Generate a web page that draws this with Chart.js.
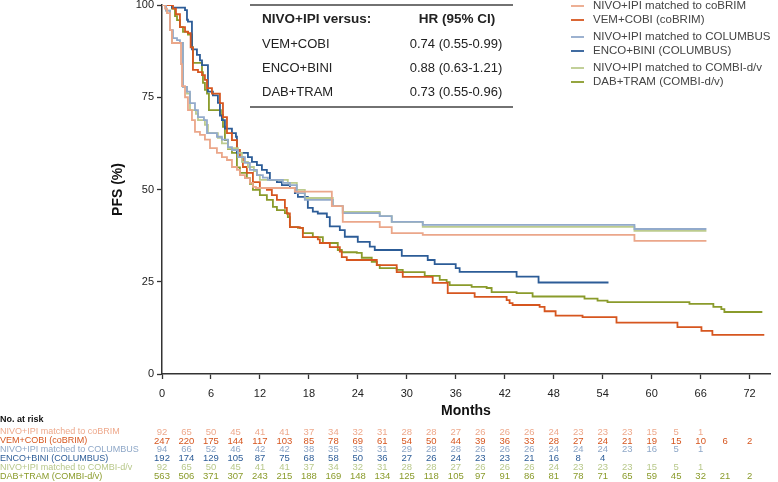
<!DOCTYPE html>
<html>
<head>
<meta charset="utf-8">
<script src="https://cdn.jsdelivr.net/npm/chart.js@4.4.1/dist/chart.umd.min.js"></script>
<style>
  html, body { margin: 0; padding: 0; background: #fff; }
  #wrap { width: 778px; height: 482px; }
</style>
</head>
<body>
<div id="wrap"><canvas id="pfsChart" width="778" height="482"></canvas></div>
<script>
// Kaplan-Meier PFS curves (months, %)
const nivoCobrimTime = [0, 0.37, 0.61, 0.98, 1.22, 2.33, 2.45, 2.82, 3.18, 3.67, 4.04, 4.65, 5.26, 5.88, 6.73, 7.34, 7.96, 8.57, 9.18, 9.55, 10.16, 10.77, 11.14, 11.51, 16.28, 20.81, 22.15, 26.68, 28.15, 31.95, 57.89, 66.71];
const nivoCobrimPfs  = [100, 99, 97.8, 93.2, 89.7, 84, 78, 75, 71.5, 68.8, 65.6, 64.8, 63.5, 61.2, 59.9, 58.8, 58, 56.1, 55.3, 53.9, 53.1, 51.8, 50.7, 50.4, 49.4, 45.5, 41.2, 39.8, 38.2, 37.7, 36.1, 36.1];

const vemCobiTime = [0, 1.35, 1.71, 2.2, 2.82, 3.18, 3.51, 3.79, 4.41, 4.9, 5.26, 5.51, 6.12, 7.1, 7.47, 7.96, 8.57, 9.18, 9.55, 9.91, 10.4, 11.14, 11.99, 12.85, 13.46, 14.08, 15.06, 15.3, 15.67, 16.89, 17.26, 19.09, 19.34, 20.56, 21.79, 22.03, 22.64, 26.32, 28.76, 29.5, 33.17, 35.01, 38.31, 42.23, 42.59, 42.96, 46.27, 46.88, 48.23, 51.53, 55.69, 63.16, 66.1, 67.44, 73.8];
const vemCobiPfs  = [100, 99, 97.5, 94, 92.8, 92.4, 88.5, 82.4, 81.8, 81, 79.7, 77.5, 76, 73.4, 69.6, 65.3, 63.4, 60.7, 58.8, 56.1, 54.5, 52, 50.4, 49.9, 48.5, 47.2, 45, 43.5, 39.8, 39.6, 37.1, 36.5, 35.5, 34.4, 33.2, 31.7, 30.9, 29.5, 27.6, 26.3, 24.7, 21.9, 20.9, 20, 19.2, 18.7, 18.2, 17, 15.8, 15.4, 13.9, 12.7, 11.7, 10.6, 10.6];

const nivoColumbusTime = [0, 0.49, 0.98, 1.35, 1.84, 2.2, 2.57, 3.06, 3.43, 4.04, 4.41, 5.14, 5.51, 6.73, 7.34, 8.08, 8.57, 9.3, 10.16, 10.77, 11.63, 12.36, 12.97, 14.81, 15.67, 16.52, 17.5, 20.93, 22.15, 26.68, 28.15, 31.95, 57.89, 66.71];
const nivoColumbusPfs  = [100, 98.5, 93.2, 91, 90.5, 89.7, 77.8, 76.5, 73.4, 71.5, 69.6, 68.8, 65.3, 64.3, 63.5, 61.5, 60.7, 58.8, 57.2, 55.3, 53.9, 53.2, 52.6, 51.8, 51.2, 49, 47.2, 45.5, 43.6, 42.8, 41.2, 40.4, 39.3, 39.3];

const encoBiniTime = [0, 1.22, 2.82, 3.06, 3.18, 3.67, 4.28, 4.65, 4.9, 5.63, 6.24, 6.85, 7.1, 7.34, 7.71, 8.57, 9.06, 9.18, 10.53, 11.02, 11.63, 12.24, 12.85, 13.22, 14.08, 14.69, 15.67, 16.28, 16.65, 17.87, 18.48, 19.09, 20.2, 20.56, 21.79, 22.4, 23.99, 25.46, 26.07, 29.38, 32.56, 33.41, 35.99, 36.47, 43.45, 46.14, 54.71];
const encoBiniPfs  = [100, 99.3, 98.6, 96, 95.5, 88, 86.5, 85, 83.7, 76.5, 75.5, 73.5, 70, 68.8, 66.5, 65.3, 64.3, 59.9, 58.8, 57.5, 56.6, 55.3, 54.5, 52.6, 52, 51.2, 50.4, 49, 48, 45, 44, 43.5, 42.5, 40, 39, 37.2, 35.8, 34.5, 33.6, 32, 30.9, 29.8, 28.7, 27.7, 26.4, 24.8, 24.8];

const nivoCombiTime = [0, 0.49, 0.98, 1.22, 2.57, 3.06, 3.43, 4.16, 4.41, 5.26, 5.63, 6.85, 7.34, 8.08, 9.3, 9.79, 10.53, 11.26, 11.63, 11.99, 15.42, 16.52, 17.5, 20.93, 22.15, 26.68, 28.15, 31.95, 57.89, 66.71];
const nivoCombiPfs  = [100, 98.5, 93.2, 89.7, 77.8, 76, 71.5, 70.5, 68.8, 67.5, 65.3, 64, 62.5, 61.2, 59.9, 57.5, 56.1, 55, 53.9, 52.6, 51.8, 49.9, 47.7, 45.5, 43.9, 42.8, 41.2, 39.9, 38.8, 38.8];

const dabTramTime = [0, 1.22, 1.59, 1.84, 2.2, 2.57, 3.18, 3.67, 3.79, 4.9, 5.02, 5.26, 5.51, 5.75, 7.22, 7.47, 7.71, 8.08, 8.57, 9.18, 9.55, 10.4, 10.77, 11.14, 11.99, 12.85, 13.59, 14.08, 15.06, 15.42, 15.67, 16.65, 17.26, 18.48, 19.71, 21.54, 22.03, 23.87, 24.48, 25.7, 26.32, 26.68, 28.76, 29.5, 32.19, 34.03, 34.88, 35.25, 37.94, 39.78, 40.39, 43.45, 45.41, 51.77, 53.37, 54.59, 64.63, 67.56, 68.54, 68.91, 73.56];
const dabTramPfs  = [100, 99, 97, 95.9, 94, 92.7, 92, 88.6, 84.3, 81.8, 78.9, 77, 76, 71.5, 70.2, 67, 63.4, 61, 59.9, 56, 54.5, 53.1, 51.5, 49.9, 48.5, 47.2, 45.3, 44.4, 43.6, 42.5, 39.8, 39.6, 38.2, 37.1, 35.5, 33.6, 33, 32.8, 31.5, 30.4, 29.5, 28.7, 28.2, 27.6, 26.6, 25.5, 24.9, 24.1, 23.6, 23.3, 22.2, 21.9, 21, 20.4, 19.9, 19.5, 19, 18.2, 17.6, 16.8, 16.8];

// axis ticks
const monthTicks = [0, 6, 12, 18, 24, 30, 36, 42, 48, 54, 60, 66, 72];
const pfsTicks = [0, 25, 50, 75, 100];

// number at risk, every 3 months
const riskMonths = [0, 3, 6, 9, 12, 15, 18, 21, 24, 27, 30, 33, 36, 39, 42, 45, 48, 51, 54, 57, 60, 63, 66, 69, 72];
const riskNivoCobrim   = [92, 65, 50, 45, 41, 41, 37, 34, 32, 31, 28, 28, 27, 26, 26, 26, 24, 23, 23, 23, 15, 5, 1];
const riskVemCobi      = [247, 220, 175, 144, 117, 103, 85, 78, 69, 61, 54, 50, 44, 39, 36, 33, 28, 27, 24, 21, 19, 15, 10, 6, 2];
const riskNivoColumbus = [94, 66, 52, 46, 42, 42, 38, 35, 33, 31, 29, 28, 28, 26, 26, 26, 24, 24, 24, 23, 16, 5, 1];
const riskEncoBini     = [192, 174, 129, 105, 87, 75, 68, 58, 50, 36, 27, 26, 24, 23, 23, 21, 16, 8, 4];
const riskNivoCombi    = [92, 65, 50, 45, 41, 41, 37, 34, 32, 31, 28, 28, 27, 26, 26, 26, 24, 23, 23, 23, 15, 5, 1];
const riskDabTram      = [563, 506, 371, 307, 243, 215, 188, 169, 148, 134, 125, 118, 105, 97, 91, 86, 81, 78, 71, 65, 59, 45, 32, 21, 2];

// hazard ratio table
const hrArms = ["VEM+COBI", "ENCO+BINI", "DAB+TRAM"];
const hrValues = ["0.74 (0.55-0.99)", "0.88 (0.63-1.21)", "0.73 (0.55-0.96)"];

const FONT = "'Liberation Sans', Arial, sans-serif";

const series = [
    { label: "NIVO+IPI matched to coBRIM", t: nivoCobrimTime, s: nivoCobrimPfs, risk: riskNivoCobrim, color: "#eba78a", text: "#eea98c" },
    { label: "VEM+COBI (coBRIM)", t: vemCobiTime, s: vemCobiPfs, risk: riskVemCobi, color: "#d6561f", text: "#d6561f" },
    { label: "NIVO+IPI matched to COLUMBUS", t: nivoColumbusTime, s: nivoColumbusPfs, risk: riskNivoColumbus, color: "#92aacb", text: "#8fa8c8" },
    { label: "ENCO+BINI (COLUMBUS)", t: encoBiniTime, s: encoBiniPfs, risk: riskEncoBini, color: "#2c5c97", text: "#2c5c97" },
    { label: "NIVO+IPI matched to COMBI-d/v", t: nivoCombiTime, s: nivoCombiPfs, risk: riskNivoCombi, color: "#bccb8e", text: "#b8c88a" },
    { label: "DAB+TRAM (COMBI-d/v)", t: dabTramTime, s: dabTramPfs, risk: riskDabTram, color: "#8a9b2b", text: "#8a9b2b" }
];

// light curves underneath, dark curves on top
const drawOrder = [0, 2, 4, 1, 3, 5];

const overlay = {
    id: "overlay",
    afterDraw(chart) {
        const ctx = chart.ctx;
        const xs = chart.scales.x;
        ctx.save();

        // HR table
        ctx.strokeStyle = "#444";
        ctx.lineWidth = 1.5;
        ctx.beginPath();
        ctx.moveTo(250, 5); ctx.lineTo(513, 5);
        ctx.moveTo(250, 107); ctx.lineTo(513, 107);
        ctx.stroke();
        ctx.textBaseline = "middle";
        ctx.fillStyle = "#222";
        ctx.font = "bold 13.5px " + FONT;
        ctx.textAlign = "left";
        ctx.fillText("NIVO+IPI versus:", 262, 19);
        ctx.textAlign = "center";
        ctx.fillText("HR (95% CI)", 457, 19);
        ctx.font = "13px " + FONT;
        hrArms.forEach((arm, i) => {
            const y = 44 + i * 24;
            ctx.textAlign = "left";
            ctx.fillText(arm, 262, y);
            ctx.textAlign = "center";
            ctx.fillText(hrValues[i], 456, y);
        });

        // legend
        const legY = [6, 20, 37, 51, 68, 82];
        ctx.font = "11.5px " + FONT;
        ctx.textAlign = "left";
        series.forEach((sr, i) => {
            ctx.strokeStyle = sr.color;
            ctx.lineWidth = 1.8;
            ctx.beginPath();
            ctx.moveTo(571, legY[i]); ctx.lineTo(584, legY[i]);
            ctx.stroke();
            ctx.fillStyle = "#444";
            ctx.fillText(sr.label, 593, legY[i]);
        });

        // number at risk table
        ctx.fillStyle = "#111";
        ctx.font = "bold 9px " + FONT;
        ctx.fillText("No. at risk", 0, 420);
        series.forEach((sr, i) => {
            const y = 432 + i * 8.9;
            ctx.fillStyle = sr.text;
            ctx.font = "9px " + FONT;
            ctx.textAlign = "left";
            ctx.fillText(sr.label, 0, y);
            ctx.font = "9.5px " + FONT;
            ctx.textAlign = "center";
            sr.risk.forEach((n, k) => {
                ctx.fillText(String(n), xs.getPixelForValue(riskMonths[k]), y);
            });
        });
        ctx.restore();
    }
};

new Chart(document.getElementById("pfsChart"), {
    type: "line",
    data: {
        datasets: drawOrder.map(i => ({
            label: series[i].label,
            data: series[i].t.map((t, k) => ({ x: t, y: series[i].s[k] })),
            borderColor: series[i].color,
            borderWidth: 1.8,
            stepped: true,
            pointRadius: 0,
            fill: false
        }))
    },
    options: {
        responsive: false,
        animation: false,
        devicePixelRatio: 1,
        layout: { padding: { left: 106, right: 8, top: 5, bottom: 60 } },
        plugins: { legend: { display: false }, tooltip: { enabled: false } },
        scales: {
            x: {
                type: "linear",
                min: 0,
                max: 74.5,
                afterBuildTicks: s => { s.ticks = monthTicks.map(v => ({ value: v })); },
                afterFit: s => { s.height = 48; s.paddingLeft = 0; s.paddingRight = 0; },
                ticks: { color: "#222", font: { family: FONT, size: 11 }, padding: 8, maxRotation: 0 },
                grid: { drawOnChartArea: false, drawTicks: true, tickLength: 5, tickColor: "#333", tickWidth: 1.3 },
                border: { color: "#333", width: 1.5 },
                title: { display: true, text: "Months", color: "#111", font: { family: FONT, size: 14, weight: "bold" }, padding: { top: 0, bottom: 2 } }
            },
            y: {
                min: 0,
                max: 100,
                afterBuildTicks: s => { s.ticks = pfsTicks.map(v => ({ value: v })); },
                afterFit: s => { s.width = 56; s.paddingTop = 0; s.paddingBottom = 0; },
                ticks: { color: "#222", font: { family: FONT, size: 11 }, padding: 3 },
                grid: { drawOnChartArea: false, drawTicks: true, tickLength: 5, tickColor: "#333", tickWidth: 1.3 },
                border: { color: "#333", width: 1.5 },
                title: { display: true, text: "PFS (%)", color: "#111", font: { family: FONT, size: 14, weight: "bold" }, padding: { top: 4, bottom: 4 } }
            }
        }
    },
    plugins: [overlay]
});
</script>
</body>
</html>
